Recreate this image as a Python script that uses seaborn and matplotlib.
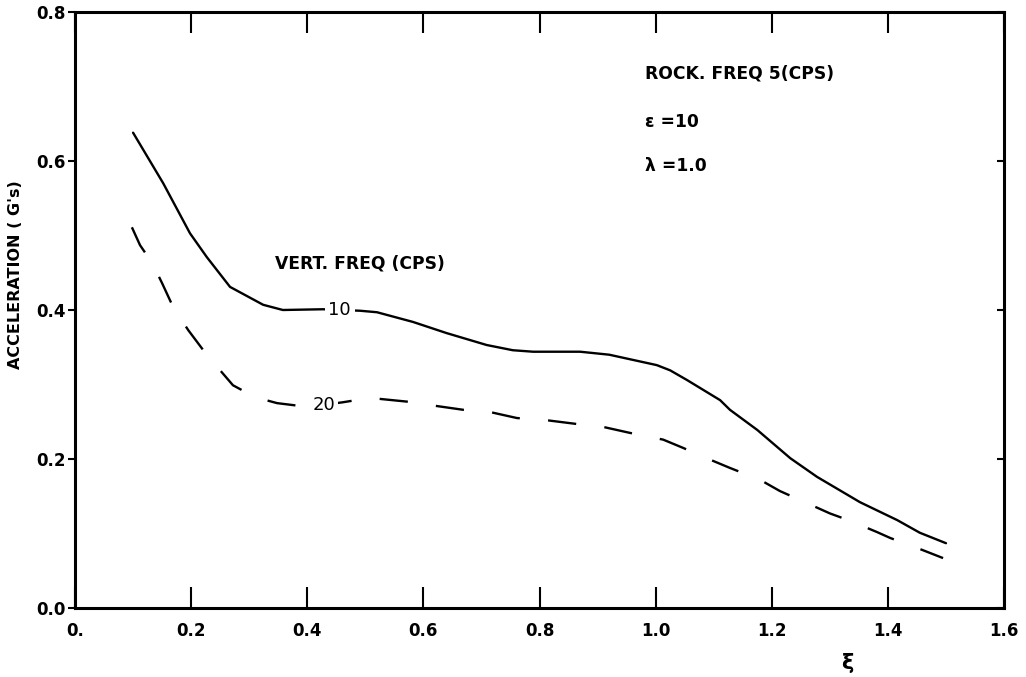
import matplotlib
matplotlib.use("Agg")
import matplotlib.pyplot as plt
import seaborn as sns
import pandas as pd

sns.set_theme(style="white")
plt.rcParams["font.family"] = ["DejaVu Sans"]
plt.rcParams["text.color"] = "black"
plt.rcParams["axes.labelcolor"] = "black"
plt.rcParams["xtick.color"] = "black"
plt.rcParams["ytick.color"] = "black"

# Acceleration vs. damping ratio for two vertical frequencies (CPS)
xi_10 = [0.10, 0.152, 0.198, 0.227, 0.267, 0.324, 0.358, 0.427, 0.491, 0.52, 0.582,
         0.64, 0.709, 0.754, 0.789, 0.87, 0.92, 0.961, 1.002, 1.025, 1.054, 1.111,
         1.128, 1.175, 1.232, 1.278, 1.352, 1.416, 1.455, 1.50]
acc_10 = [0.638, 0.570, 0.503, 0.471, 0.431, 0.407, 0.400, 0.401, 0.399, 0.397, 0.384,
          0.369, 0.353, 0.346, 0.344, 0.344, 0.340, 0.333, 0.326, 0.319, 0.306, 0.279,
          0.266, 0.239, 0.201, 0.176, 0.142, 0.118, 0.101, 0.087]

xi_20 = [0.098, 0.112, 0.133, 0.150, 0.169, 0.195, 0.221, 0.250, 0.272, 0.310, 0.348,
         0.40, 0.46, 0.508, 0.572, 0.606, 0.669, 0.715, 0.761, 0.813, 0.864, 0.910,
         0.956, 1.013, 1.047, 1.088, 1.128, 1.18, 1.214, 1.26, 1.30, 1.335, 1.381,
         1.404, 1.459, 1.495]
acc_20 = [0.511, 0.487, 0.463, 0.436, 0.404, 0.373, 0.346, 0.319, 0.299, 0.283, 0.275,
          0.270, 0.276, 0.282, 0.277, 0.273, 0.266, 0.263, 0.255, 0.252, 0.247, 0.243,
          0.235, 0.226, 0.215, 0.201, 0.188, 0.172, 0.157, 0.141, 0.127, 0.117, 0.102,
          0.094, 0.078, 0.067]

x_ticks = [0.0, 0.2, 0.4, 0.6, 0.8, 1.0, 1.2, 1.4, 1.6]
x_ticklabels = ["0.", "0.2", "0.4", "0.6", "0.8", "1.0", "1.2", "1.4", "1.6"]
y_ticks = [0.0, 0.2, 0.4, 0.6, 0.8]
y_ticklabels = ["0.0", "0.2", "0.4", "0.6", "0.8"]

curve_labels = ["10", "20"]
curve_label_pos = [(0.456, 0.400), (0.428, 0.273)]

fig = plt.figure(figsize=(10.26, 6.77), dpi=100)
ax = fig.add_axes([0.0731, 0.1019, 0.9055, 0.8804])

df10 = pd.DataFrame({"xi": xi_10, "acc": acc_10})
df20 = pd.DataFrame({"xi": xi_20, "acc": acc_20})
sns.lineplot(data=df10, x="xi", y="acc", ax=ax, color="black", lw=1.7, sort=False)
sns.lineplot(data=df20, x="xi", y="acc", ax=ax, color="black", lw=1.7, sort=False,
             linestyle=(0, (12, 12)))

for lab, (lx, ly) in zip(curve_labels, curve_label_pos):
    ax.text(lx, ly, lab, ha="center", va="center", fontsize=13, fontweight="medium",
            color="black", bbox=dict(facecolor="white", edgecolor="none", pad=2.5),
            zorder=5)

note_kw = dict(fontsize=12.3, fontweight="bold", ha="left", va="center")
ax.text(0.344, 0.463, "VERT. FREQ (CPS)", **note_kw)
ax.text(0.982, 0.718, "ROCK. FREQ 5(CPS)", **note_kw)
ax.text(0.982, 0.652, "ε =10", **note_kw)
ax.text(0.982, 0.593, "λ =1.0", **note_kw)

ax.set_xlim(0, 1.6)
ax.set_ylim(0, 0.8)
ax.set_xticks(x_ticks)
ax.set_xticklabels(x_ticklabels, fontsize=12, fontweight="bold")
ax.set_yticks(y_ticks)
ax.set_yticklabels(y_ticklabels, fontsize=12, fontweight="bold")

ax.tick_params(axis="x", direction="in", length=15, width=1.5, top=True, bottom=True,
               pad=10)
ax.tick_params(axis="y", which="both", left=True, right=False, direction="out",
               length=5, width=1.5, pad=2)
sec = ax.secondary_yaxis("right")
sec.set_yticks(y_ticks)
sec.set_yticklabels([])
sec.tick_params(direction="in", length=5, width=1.5)
sec.spines["right"].set_visible(False)

for s in ax.spines.values():
    s.set_visible(True)
    s.set_color("black")
    s.set_linewidth(2.2)

ax.set_ylabel("ACCELERATION ( G's)", fontsize=11.5, fontweight="bold")
ax.yaxis.set_label_coords(-0.056, 0.56)
ax.set_xlabel("ξ", fontsize=15, fontweight="bold")
ax.xaxis.set_label_coords(0.831, -0.075)

fig.savefig("out.png", dpi=100, facecolor="white")
